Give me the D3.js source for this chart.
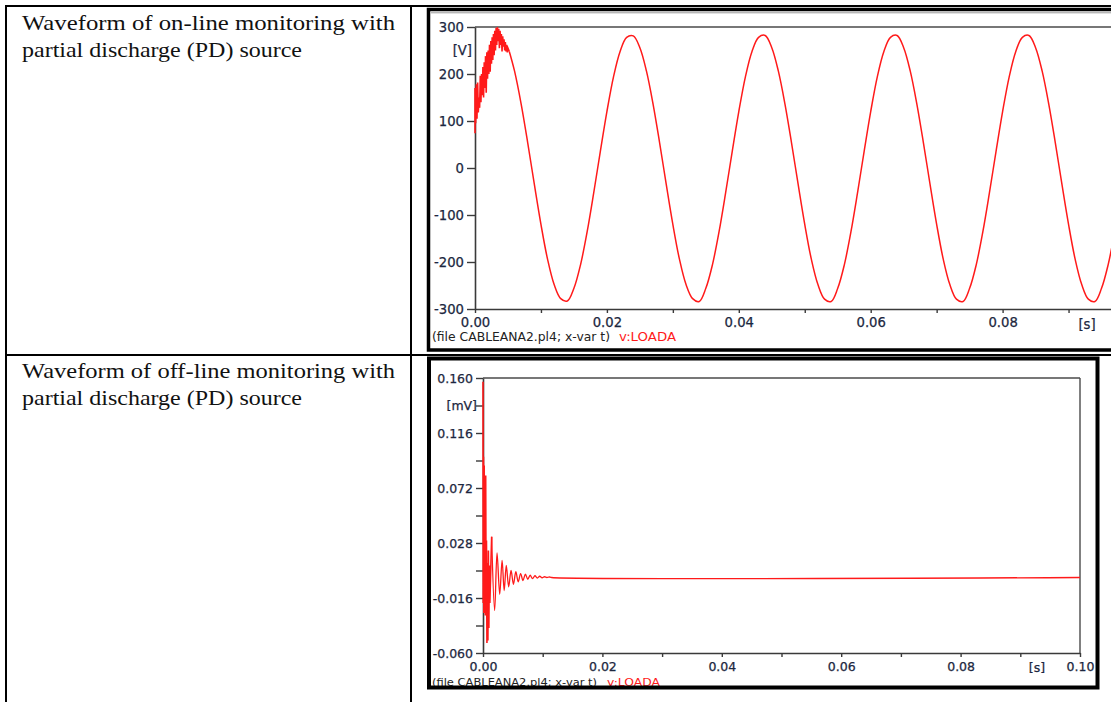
<!DOCTYPE html>
<html><head><meta charset="utf-8">
<script src="https://cdn.jsdelivr.net/npm/d3@7"></script>
<style>html,body{margin:0;padding:0;background:#fff;overflow:hidden}</style>
</head><body>
<svg id="c" width="1111" height="702"></svg>
<script>
// ---------- data ----------
const rowTitles = [
  ["Waveform of on-line monitoring with", "partial discharge (PD) source"],
  ["Waveform of off-line monitoring with", "partial discharge (PD) source"]
];
const captionFile = "(file CABLEANA2.pl4; x-var t)";
const captionVar = "v:LOADA";

// on-line chart: noisy start (time in ms, voltage in V)
const onlineNoiseMs = [0, 0, 0.1, 0.2, 0.3, 0.4, 0.5, 0.6, 0.7, 0.8, 0.9, 1.0, 1.1, 1.2, 1.3, 1.4, 1.5, 1.6, 1.7, 1.8, 1.9, 2.0, 2.1, 2.2, 2.3, 2.4, 2.5, 2.6, 2.7, 2.8, 2.9, 3.0, 3.1, 3.2, 3.3, 3.4, 3.5, 3.6, 3.7, 3.8, 3.9, 4.0, 4.1, 4.2, 4.3, 4.4, 4.5, 4.6, 4.7, 4.8, 4.9, 5.0, 5.2];
const onlineNoiseV = [74, 170, 95, 178, 105, 182, 118, 150, 128, 196, 140, 200, 155, 215, 150, 225, 170, 238, 160, 246, 190, 250, 200, 262, 205, 270, 222, 278, 230, 285, 240, 292, 250, 298, 262, 300, 270, 296, 255, 292, 262, 285, 248, 280, 258, 274, 250, 268, 248, 262, 246, 255, 248];
// on-line chart: steady 50 Hz wave (time in ms, voltage in V)
const onlineWaveMs = [6, 7, 8, 9, 10, 11, 12, 13, 14, 15, 16, 17, 18, 19, 20, 21, 22, 23, 24, 25, 26, 27, 28, 29, 30, 31, 32, 33, 34, 35, 36, 37, 38, 39, 40, 41, 42, 43, 44, 45, 46, 47, 48, 49, 50, 51, 52, 53, 54, 55, 56, 57, 58, 59, 60, 61, 62, 63, 64, 65, 66, 67, 68, 69, 70, 71, 72, 73, 74, 75, 76, 77, 78, 79, 80, 81, 82, 83, 84, 85, 86, 87, 88, 89, 90, 91, 92, 93, 94, 95, 96, 97, 98, 99, 100];
const onlineWaveV = [206, 136, 53, -35, -120, -194, -248, -278, -283, -256, -206, -136, -53, 35, 120, 194, 248, 278, 281, 256, 206, 136, 53, -35, -120, -194, -248, -278, -284, -256, -206, -136, -53, 35, 120, 194, 248, 278, 282, 256, 206, 136, 53, -35, -120, -194, -248, -279, -284, -256, -206, -136, -53, 35, 120, 194, 248, 278, 282, 256, 206, 136, 53, -35, -120, -194, -248, -279, -284, -256, -206, -136, -53, 35, 120, 194, 248, 278, 282, 256, 206, 136, 53, -35, -120, -194, -248, -279, -284, -256, -206, -136, -53, 35, 120];

// off-line chart: spike region (time in ms, value in mV)
const offlineSpikeMs = [0, 0.03, 0.08, 0.14, 0.2, 0.26, 0.32, 0.38, 0.45, 0.52, 0.58, 0.66, 0.74, 0.82, 0.9, 0.98, 1.06, 1.15, 1.45];
const offlineSpikeV = [0.157, -0.02, 0.097, -0.028, 0.09, -0.018, 0.06, -0.03, 0.082, -0.02, 0.03, -0.052, 0.012, -0.05, 0.022, -0.04, 0.01, -0.02, 0.033];
// off-line chart: decaying ring and steady level
const offlineRingMs = [1.45, 1.95, 2.35, 2.8, 3.2, 3.55, 3.9, 4.3, 4.7, 5.1, 5.5, 5.9, 6.3, 6.7, 7.1, 7.5, 7.9, 8.3, 8.7, 9.1, 9.5, 9.9, 10.3, 10.7, 11.1, 11.5, 100];
const offlineRingV = [0.033, -0.026, 0.020, -0.013, 0.014, -0.010, 0.010, -0.007, 0.006, -0.005, 0.005, -0.003, 0.0035, -0.002, 0.003, -0.001, 0.0022, -0.0005, 0.0018, 0.0, 0.0014, 0.0002, 0.001, 0.0004, 0.0008, 0.0004, 0.0004];

// ticks
const onlineYTicks = [-300, -200, -100, 0, 100, 200, 300];
const onlineYLabels = ["-300", "-200", "-100", "0", "100", "200", "300"];
const onlineXTicks = [0, 0.01, 0.02, 0.03, 0.04, 0.05, 0.06, 0.07, 0.08, 0.09];
const onlineXLabels = ["0.00", "", "0.02", "", "0.04", "", "0.06", "", "0.08", ""];
const offlineYTicks = [-0.060, -0.038, -0.016, 0.006, 0.028, 0.050, 0.072, 0.094, 0.116, 0.138, 0.160];
const offlineYLabels = ["-0.060", "", "-0.016", "", "0.028", "", "0.072", "", "0.116", "", "0.160"];
const offlineXTicks = [0, 0.01, 0.02, 0.03, 0.04, 0.05, 0.06, 0.07, 0.08, 0.09, 0.10];
const offlineXLabels = ["0.00", "", "0.02", "", "0.04", "", "0.06", "", "0.08", "", "0.10"];

// ---------- drawing ----------
const svg = d3.select("#c");
const FONT = "'DejaVu Sans', Verdana, sans-serif";
const LBL = "#1c2740";
const RED = "#ff1a1a";

// table text
const textG = svg.append("g").attr("font-family", "'Liberation Serif', 'Times New Roman', Times, serif")
  .attr("font-size", 21).attr("fill", "#111");
const rowBase = [30, 378];
const lineLen = [373, 280];
rowTitles.forEach((lines, r) => {
  lines.forEach((s, i) => {
    textG.append("text").attr("x", 22).attr("y", rowBase[r] + i * 27)
      .attr("textLength", lineLen[i]).attr("lengthAdjust", "spacingAndGlyphs").text(s);
  });
});

function styleAxis(g, size) {
  g.attr("font-size", null).attr("font-family", null);
  g.selectAll(".domain").attr("stroke", "#3a3a3a").attr("stroke-width", 1.6);
  g.selectAll(".tick line").attr("stroke", "#3a3a3a").attr("stroke-width", 1.4);
  g.selectAll(".tick text").attr("fill", LBL).attr("font-family", FONT).attr("font-size", size)
    .attr("stroke", LBL).attr("stroke-width", 0.25);
}

// ===== chart 1 (on-line) =====
{
  const x = d3.scaleLinear().domain([0, 0.1]).range([475, 1134.5]);
  const y = d3.scaleLinear().domain([-300, 300]).range([309, 27]);
  const g = svg.append("g");
  g.append("line").attr("x1", x(0)).attr("x2", 1111).attr("y1", y(300)).attr("y2", y(300)).attr("stroke", "#4a4a4a").attr("stroke-width", 1.4);
  const ax = g.append("g").attr("transform", `translate(0,${y(-300)})`)
    .call(d3.axisBottom(x).tickValues(onlineXTicks).tickSize(4).tickSizeOuter(0).tickPadding(5)
      .tickFormat((d, i) => onlineXLabels[i]));
  styleAxis(ax, 13.2);
  const ay = g.append("g").attr("transform", `translate(${x(0)},0)`)
    .call(d3.axisLeft(y).tickValues(onlineYTicks).tickSize(8).tickSizeOuter(0).tickPadding(3)
      .tickFormat((d, i) => onlineYLabels[i]));
  styleAxis(ay, 13.2);
  const lab = (px, py, s, anchor, size) => g.append("text").attr("x", px).attr("y", py).attr("text-anchor", anchor)
    .attr("font-family", FONT).attr("font-size", size).attr("fill", LBL).attr("stroke", LBL).attr("stroke-width", 0.25).text(s);
  lab(472, 55, "[V]", "end", 13.2);
  lab(1087, 329, "[s]", "middle", 13.2);
  // caption
  g.append("text").attr("x", 432).attr("y", 341).attr("font-family", FONT).attr("font-size", 12)
    .attr("fill", "#222").attr("textLength", 178).attr("lengthAdjust", "spacingAndGlyphs").text(captionFile);
  g.append("text").attr("x", 619).attr("y", 341).attr("font-family", FONT).attr("font-size", 12)
    .attr("fill", RED).attr("textLength", 57).attr("lengthAdjust", "spacingAndGlyphs").text(captionVar);

  const noise = onlineNoiseMs.map((t, i) => [t / 1000, onlineNoiseV[i]]);
  const wave = [noise[noise.length - 1]].concat(onlineWaveMs.map((t, i) => [t / 1000, onlineWaveV[i]]));
  const lin = d3.line().x(d => x(d[0])).y(d => y(d[1]));
  const smooth = d3.line().x(d => x(d[0])).y(d => y(d[1])).curve(d3.curveCatmullRom.alpha(0.5));
  g.append("path").attr("d", lin(noise)).attr("fill", "none").attr("stroke", RED).attr("stroke-width", 1.6);
  g.append("path").attr("d", smooth(wave)).attr("fill", "none").attr("stroke", RED).attr("stroke-width", 1.5);
}

// ===== chart 2 (off-line) =====
{
  const x = d3.scaleLinear().domain([0, 0.1]).range([483, 1080]);
  const y = d3.scaleLinear().domain([-0.06, 0.16]).range([653, 378]);
  const g = svg.append("g");
  g.append("line").attr("x1", x(0)).attr("x2", x(0.1)).attr("y1", y(0.16)).attr("y2", y(0.16)).attr("stroke", "#4a4a4a").attr("stroke-width", 1.4);
  g.append("line").attr("x1", x(0.1)).attr("x2", x(0.1)).attr("y1", y(0.16)).attr("y2", y(-0.06)).attr("stroke", "#4a4a4a").attr("stroke-width", 1.4);
  const ax = g.append("g").attr("transform", `translate(0,${y(-0.06)})`)
    .call(d3.axisBottom(x).tickValues(offlineXTicks).tickSize(4).tickSizeOuter(0).tickPadding(5)
      .tickFormat((d, i) => offlineXLabels[i]));
  styleAxis(ax, 12.5);
  const ay = g.append("g").attr("transform", `translate(${x(0)},0)`)
    .call(d3.axisLeft(y).tickValues(offlineYTicks).tickSize(7).tickSizeOuter(0).tickPadding(3)
      .tickFormat((d, i) => offlineYLabels[i]));
  styleAxis(ay, 12.5);
  const lab = (px, py, s, anchor, size) => g.append("text").attr("x", px).attr("y", py).attr("text-anchor", anchor)
    .attr("font-family", FONT).attr("font-size", size).attr("fill", LBL).attr("stroke", LBL).attr("stroke-width", 0.25).text(s);
  lab(477, y(0.138) + 4.5, "[mV]", "end", 12.5);
  lab(1037, 672, "[s]", "middle", 12.5);
  g.append("text").attr("x", 432).attr("y", 685.5).attr("font-family", FONT).attr("font-size", 11)
    .attr("fill", "#222").attr("textLength", 165).attr("lengthAdjust", "spacingAndGlyphs").text(captionFile);
  g.append("text").attr("x", 607).attr("y", 685.5).attr("font-family", FONT).attr("font-size", 11)
    .attr("fill", RED).attr("textLength", 53).attr("lengthAdjust", "spacingAndGlyphs").text(captionVar);

  const spike = offlineSpikeMs.map((t, i) => [t / 1000, offlineSpikeV[i]]);
  const ring = offlineRingMs.map((t, i) => [t / 1000, offlineRingV[i]]);
  const lin = d3.line().x(d => x(d[0])).y(d => y(d[1]));
  const smooth = d3.line().x(d => x(d[0])).y(d => y(d[1])).curve(d3.curveCatmullRom.alpha(0.5));
  g.append("path").attr("d", lin(spike)).attr("fill", "none").attr("stroke", RED).attr("stroke-width", 1.6);
  g.append("path").attr("d", smooth(ring)).attr("fill", "none").attr("stroke", RED).attr("stroke-width", 1.3);
}

// ---------- frames and table lines ----------
const fr = svg.append("g").attr("fill", "none").attr("stroke", "#000");
fr.append("path").attr("d", "M1111,9.5H428.5V350H1111").attr("stroke-width", 3.5);
fr.append("line").attr("x1", 431).attr("x2", 1111).attr("y1", 12.8).attr("y2", 12.8).attr("stroke", "#999").attr("stroke-width", 1);
fr.append("rect").attr("x", 429).attr("y", 358.5).attr("width", 668.5).attr("height", 329).attr("stroke-width", 4);
fr.append("line").attr("x1", 5).attr("x2", 1111).attr("y1", 6).attr("y2", 6).attr("stroke-width", 2);
fr.append("line").attr("x1", 6).attr("x2", 6).attr("y1", 5).attr("y2", 702).attr("stroke-width", 2);
fr.append("line").attr("x1", 411).attr("x2", 411).attr("y1", 5).attr("y2", 702).attr("stroke-width", 2);
fr.append("line").attr("x1", 5).attr("x2", 1111).attr("y1", 355).attr("y2", 355).attr("stroke-width", 2);
</script>
</body></html>
